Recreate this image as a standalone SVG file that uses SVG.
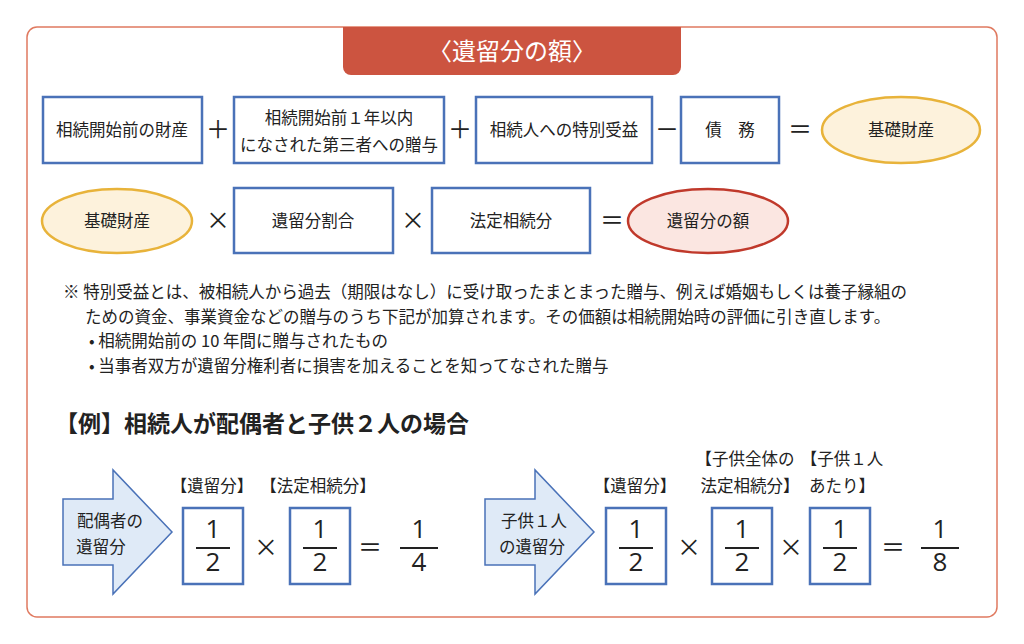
<svg xmlns="http://www.w3.org/2000/svg" width="1024" height="644" viewBox="0 0 1024 644">
<style>
text{font-family:"Noto Sans CJK JP","Noto Sans",sans-serif;fill:#222}
.b{fill:#fff;stroke:#4a72b8;stroke-width:2.5}
.t{font-size:16.5px;text-anchor:middle}
.op{font-size:24px;text-anchor:middle}
.n{font-size:16.5px}
.fr{font-family:"Open Sans",sans-serif;font-size:26px;text-anchor:middle}
.fl{stroke:#222;stroke-width:2}
.ar{fill:#dfeaf7;stroke:#4a72b8;stroke-width:1.5}
.y{fill:#fdf2dc;stroke:#e8b33a;stroke-width:2.5}
</style>
<rect x="0" y="0" width="1024" height="644" fill="#fff"/>
<rect x="27" y="27" width="970" height="590" rx="10" fill="#fff" stroke="#e07a60" stroke-width="1.5"/>
<g id="title"><path d="M343 27H681V67a8 8 0 0 1-8 8H351a8 8 0 0 1-8-8Z" fill="#cc5440"/>
<text x="512" y="60" font-size="24" text-anchor="middle" style="fill:#fff">〈遺留分の額〉</text></g>
<g id="r1a"><rect class="b" x="43" y="97" width="159" height="66"/><text class="t" x="122" y="136">相続開始前の財産</text></g>
<g id="r1b"><rect class="b" x="234" y="97" width="210" height="66"/><text class="t" x="339" y="124">相続開始前１年以内</text><text class="t" x="339" y="151">になされた第三者への贈与</text></g>
<g id="r1c"><rect class="b" x="476" y="97" width="176" height="66"/><text class="t" x="564" y="136">相続人への特別受益</text></g>
<g id="r1d"><rect class="b" x="681" y="97" width="98" height="66"/><text class="t" x="730" y="136">債　務</text></g>
<g id="r1e"><ellipse class="y" cx="901" cy="130" rx="79" ry="33"/><text class="t" x="901" y="136">基礎財産</text></g>
<g id="r2a"><ellipse class="y" cx="117" cy="221" rx="75" ry="32"/><text class="t" x="117" y="227">基礎財産</text></g>
<g id="r2b"><rect class="b" x="234" y="188" width="159" height="65"/><text class="t" x="313" y="227">遺留分割合</text></g>
<g id="r2c"><rect class="b" x="432" y="188" width="158" height="65"/><text class="t" x="511" y="227">法定相続分</text></g>
<g id="r2d"><ellipse cx="708" cy="221" rx="80" ry="32" fill="#fbe6e1" stroke="#c0392b" stroke-width="2.5"/><text class="t" x="708" y="227">遺留分の額</text></g>
<g id="ops">
<text class="op" x="218" y="138">＋</text><text class="op" x="460" y="138">＋</text><text class="op" x="667" y="138">－</text><text class="op" x="800" y="138">＝</text>
<text class="op" x="218" y="229">×</text><text class="op" x="413" y="229">×</text><text class="op" x="612" y="229">＝</text>
</g>
<g id="note">
<text class="n" x="63" y="298">※ 特別受益とは、被相続人から過去（期限はなし）に受け取ったまとまった贈与、例えば婚姻もしくは養子縁組の</text>
<text class="n" x="85" y="323">ための資金、事業資金などの贈与のうち下記が加算されます。その価額は相続開始時の評価に引き直します。</text>
<text class="n" x="89" y="347">• 相続開始前の 10 年間に贈与されたもの</text>
<text class="n" x="89" y="372">• 当事者双方が遺留分権利者に損害を加えることを知ってなされた贈与</text>
</g>
<text x="55" y="432" font-size="23" font-weight="bold">【例】相続人が配偶者と子供２人の場合</text>
<g id="ex1">
<path class="ar" d="M63 499H113V470L172 532L113 594V565H63Z"/>
<text class="t" x="110" y="527">配偶者の</text><text class="t" x="101" y="553">遺留分</text>
<text class="t" x="212" y="492">【遺留分】</text><text class="t" x="318" y="492">【法定相続分】</text>
<rect class="b" x="183" y="508" width="60" height="76"/><rect class="b" x="290" y="508" width="60" height="76"/>
<text class="fr" x="213" y="538">1</text><line class="fl" x1="196" y1="548" x2="230" y2="548"/><text class="fr" x="213" y="571">2</text>
<text class="fr" x="320" y="538">1</text><line class="fl" x1="303" y1="548" x2="337" y2="548"/><text class="fr" x="320" y="571">2</text>
<text class="op" x="266" y="556">×</text><text class="op" x="370" y="556">＝</text>
<text class="fr" x="419" y="538">1</text><line class="fl" x1="400" y1="548" x2="438" y2="548"/><text class="fr" x="419" y="571">4</text>
</g>
<g id="ex2">
<path class="ar" d="M485 499H535V470L594 532L535 594V565H485Z"/>
<text class="t" x="534" y="527">子供１人</text><text class="t" x="532" y="553">の遺留分</text>
<text class="t" x="635" y="492">【遺留分】</text>
<text class="t" x="745" y="465">【子供全体の</text><text class="t" x="750" y="492">法定相続分】</text>
<text class="t" x="842" y="465">【子供１人</text><text class="t" x="842" y="492">あたり】</text>
<rect class="b" x="606" y="508" width="60" height="76"/><rect class="b" x="712" y="508" width="60" height="76"/><rect class="b" x="810" y="508" width="60" height="76"/>
<text class="fr" x="636" y="538">1</text><line class="fl" x1="619" y1="548" x2="653" y2="548"/><text class="fr" x="636" y="571">2</text>
<text class="fr" x="742" y="538">1</text><line class="fl" x1="725" y1="548" x2="759" y2="548"/><text class="fr" x="742" y="571">2</text>
<text class="fr" x="840" y="538">1</text><line class="fl" x1="823" y1="548" x2="857" y2="548"/><text class="fr" x="840" y="571">2</text>
<text class="op" x="689" y="556">×</text><text class="op" x="791" y="556">×</text><text class="op" x="893" y="556">＝</text>
<text class="fr" x="940" y="538">1</text><line class="fl" x1="921" y1="548" x2="959" y2="548"/><text class="fr" x="940" y="571">8</text>
</g>
</svg>
